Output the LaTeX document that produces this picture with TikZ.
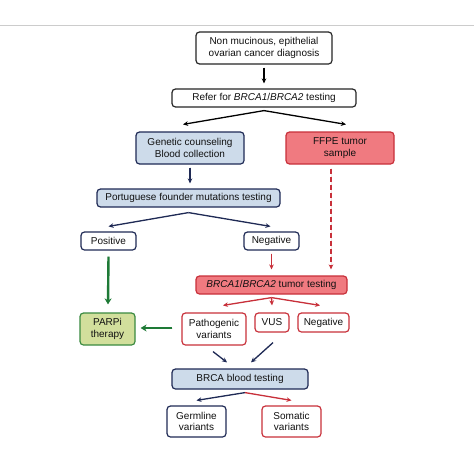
\documentclass[tikz,border=0pt]{standalone}
\usepackage{fontspec}
\setmainfont{Liberation Sans}
\usetikzlibrary{arrows.meta,calc}
\definecolor{navy}{HTML}{1F2A55}
\definecolor{bluefill}{HTML}{CDDBEA}
\definecolor{redb}{HTML}{C8303A}
\definecolor{redfill}{HTML}{F07A80}
\definecolor{greenb}{HTML}{3A8A40}
\definecolor{greenfill}{HTML}{D2DF9C}
\definecolor{greenarr}{HTML}{1E7A36}
\definecolor{txt}{HTML}{111111}
\begin{document}
\begin{tikzpicture}[x=1pt,y=-1pt,
  box/.style={draw, rounded corners=3.5pt, line width=1.2pt, align=center, inner sep=0pt,
    font=\fontsize{10}{11.8}\selectfont, text=txt},
  blk/.style={box, draw=black!85, fill=white},
  nv/.style={box, draw=navy, fill=white},
  nvf/.style={box, draw=navy, fill=bluefill},
  rd/.style={box, draw=redb, fill=white},
  rdf/.style={box, draw=redb, fill=redfill},
  gr/.style={box, draw=greenb, fill=greenfill},
  arr/.style={-{Stealth[length=5pt,width=4.6pt]}, line width=1.3pt},
  karr/.style={arr, draw=black},
  narr/.style={arr, draw=navy, fill=navy},
  rarr/.style={arr, draw=redb, fill=redb},
  garr/.style={-{Stealth[length=6pt,width=7pt]}, line width=2.4pt, draw=greenarr, fill=greenarr},
  sz/.style 2 args={minimum width=#1pt, minimum height=#2pt}
]
\useasboundingbox (0,0) rectangle (474,474);
\fill[white] (0,0) rectangle (474,474);
\draw[black!20, line width=0.8pt] (0,25) -- (474,25);

\node[blk, sz={136}{32}] (b1) at (264,48) {Non mucinous, epithelial\\ovarian cancer diagnosis};
\node[blk, sz={184}{18}] (b2) at (264,98) {Refer for \textit{BRCA1}/\textit{BRCA2} testing};
\node[nvf, sz={108}{32}] (gc) at (190,148) {Genetic counseling\\Blood collection};
\node[rdf, sz={108}{32}] (ffpe) at (340,148) {FFPE tumor\\sample};
\node[nvf, sz={183}{18}] (pf) at (188.5,198) {Portuguese founder mutations testing};
\node[nv, sz={55}{18}] (pos) at (108.5,241) {Positive};
\node[nv, sz={55}{18}] (neg) at (271.5,241) {Negative};
\node[rdf, sz={151}{18}] (tt) at (271.5,285) {\textit{BRCA1}/\textit{BRCA2} tumor testing};
\node[gr, sz={55}{32}] (parp) at (107.5,329) {PARPi\\therapy};
\node[rd, sz={64}{32}] (path) at (214,329) {Pathogenic\\variants};
\node[rd, sz={34}{19}] (vus) at (272,322.5) {VUS};
\node[rd, sz={51}{19}] (neg2) at (323.5,322.5) {Negative};
\node[nvf, sz={136}{20}] (bbt) at (240,379) {BRCA blood testing};
\node[nv, sz={59}{31}] (germ) at (196.5,421.5) {Germline\\variants};
\node[rd, sz={59}{31}] (som) at (291.5,421.5) {Somatic\\variants};

\draw[karr] ($(b1.south)+(0,3)$) -- ($(b2.north)+(0,-5)$);
\draw[karr] ($(b2.south)+(0,3)$) -- ($(gc.north)+(-7,-7)$);
\draw[karr] ($(b2.south)+(0,3)$) -- ($(ffpe.north)+(6,-7)$);
\draw[narr] ($(gc.south)+(0,3)$) -- ($(gc.south |- pf.north)+(0,-5)$);
\draw[narr] ($(pf.south)+(0,5)$) -- ($(pos.north)+(0,-5)$);
\draw[narr] ($(pf.south)+(0,5)$) -- ($(neg.north)+(-1,-5)$);
\draw[rarr] ($(neg.south)+(0,3)$) -- ($(tt.north)+(0,-6)$);
\draw[rarr, dash pattern=on 5pt off 3pt, line width=1.4pt] ($(ffpe.south)+(-9,4)$) -- ($(tt.north)+(59.5,-6)$);
\draw[garr] ($(pos.south)+(0,6)$) -- ($(parp.north)+(0.5,-8)$);
\draw[rarr] ($(tt.south)+(0,3)$) -- ($(path.north)+(9,-7)$);
\draw[rarr] ($(tt.south)+(0,3)$) -- ($(vus.north)+(0,-7)$);
\draw[rarr] ($(tt.south)+(0,3)$) -- ($(neg2.north)+(-3.5,-7)$);
\draw[garr] ($(path.west)+(-9,-1)$) -- ($(parp.east)+(5,-1)$);
\draw[narr] ($(path.south)+(-1,6)$) -- ($(bbt.north)+(-13,-6)$);
\draw[narr] ($(vus.south)+(1,10)$) -- ($(bbt.north)+(11,-6)$);
\draw[narr] ($(bbt.south)+(5,3)$) -- ($(germ.north)+(0,-5)$);
\draw[rarr] ($(bbt.south)+(5,3)$) -- ($(som.north)+(0,-5)$);
\end{tikzpicture}
\end{document}
